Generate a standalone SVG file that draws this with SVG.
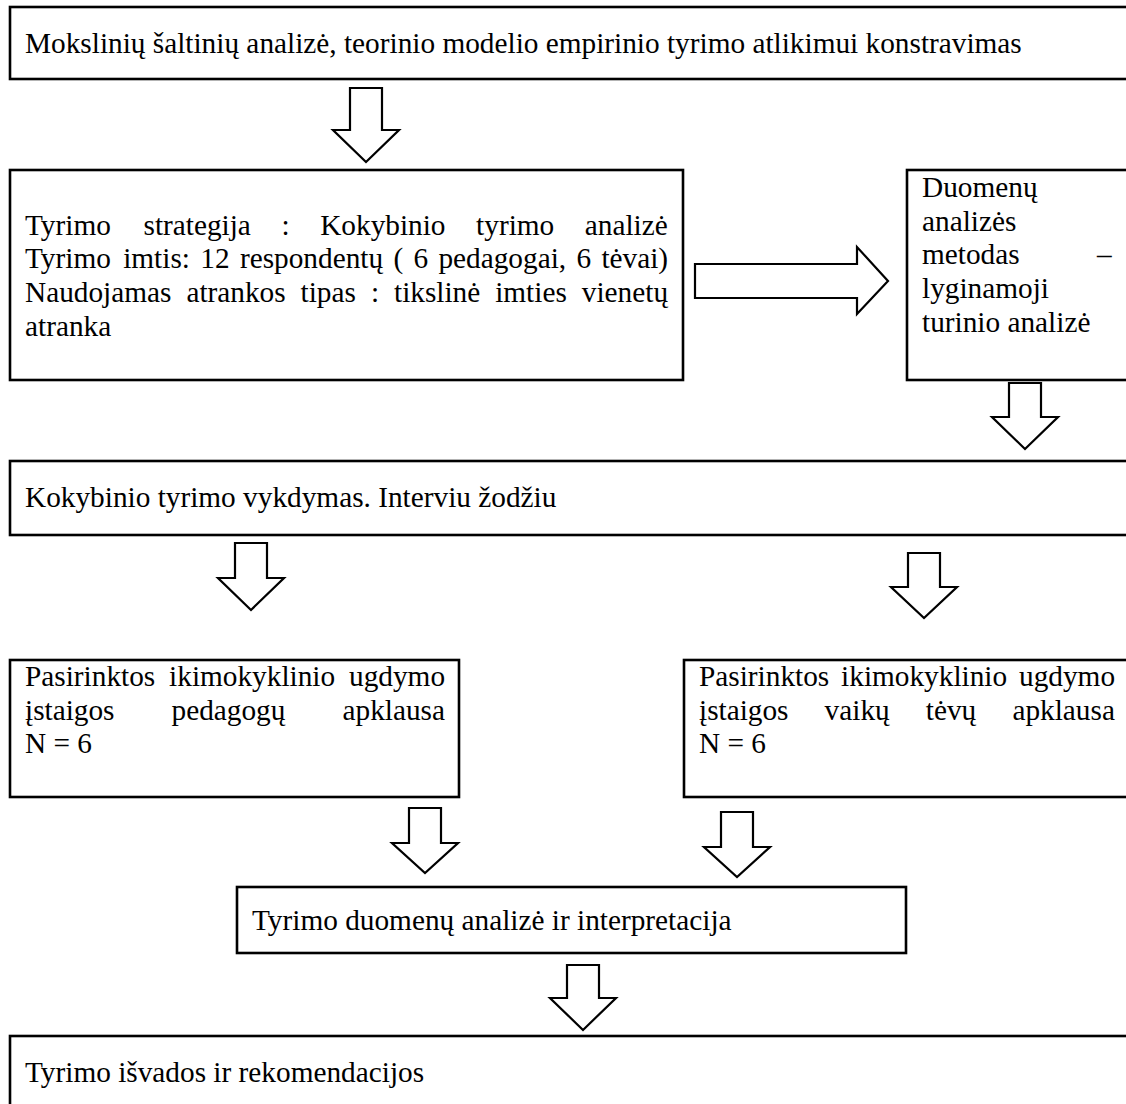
<svg xmlns="http://www.w3.org/2000/svg" width="1126" height="1104" viewBox="0 0 1126 1104" font-family="'Liberation Serif', 'Times New Roman', serif" font-size="29.3">
<style>
.box{fill:#fff;stroke:#000;stroke-width:2.6}
.arr{fill:#fff;stroke:#000;stroke-width:2.2;stroke-linejoin:miter}
.t{font-family:"Liberation Serif","Times New Roman",serif;font-size:29.3px;fill:#000}
</style>
<rect width="1126" height="1104" fill="#fff"/>
<g id="connectors">
<path class="arr" d="M350,88 H382 V130 H399 L366,162 L333,130 H350 Z"/>
<path class="arr" d="M695,264 H857 V247 L888,281 L857,314 V298 H695 Z"/>
<path class="arr" d="M1009,383 H1041 V417 H1058 L1025,449 L992,417 H1009 Z"/>
<path class="arr" d="M235,543 H267 V578 H284 L251,610 L218,578 H235 Z"/>
<path class="arr" d="M908,553 H940 V587 H957 L924,618 L891,587 H908 Z"/>
<path class="arr" d="M409,808 H441 V843 H458 L425,873 L392,843 H409 Z"/>
<path class="arr" d="M721,812 H753 V847 H770 L737,877 L704,847 H721 Z"/>
<path class="arr" d="M567,965 H599 V998 H616 L583,1030 L550,998 H567 Z"/>
</g>
<g id="n1">
<rect class="box" x="10" y="7" width="1125" height="72"/>
<text class="t" x="25" y="53">Mokslinių šaltinių analizė, teorinio modelio empirinio tyrimo atlikimui konstravimas</text>
</g>
<g id="n2">
<rect class="box" x="10" y="170" width="673" height="210"/>
<text class="t" x="25" y="234.5">Tyrimo</text>
<text class="t" x="143.5" y="234.5">strategija</text>
<text class="t" x="281.5" y="234.5">:</text>
<text class="t" x="320.2" y="234.5">Kokybinio</text>
<text class="t" x="476.1" y="234.5">tyrimo</text>
<text class="t" x="584.8" y="234.5">analizė</text>
<text class="t" x="25" y="268.2">Tyrimo</text>
<text class="t" x="123.2" y="268.2">imtis:</text>
<text class="t" x="200.3" y="268.2">12</text>
<text class="t" x="239.9" y="268.2">respondentų</text>
<text class="t" x="393.4" y="268.2">(</text>
<text class="t" x="413.5" y="268.2">6</text>
<text class="t" x="438.4" y="268.2">pedagogai,</text>
<text class="t" x="576.5" y="268.2">6</text>
<text class="t" x="601.4" y="268.2">tėvai)</text>
<text class="t" x="25" y="301.9">Naudojamas</text>
<text class="t" x="186.4" y="301.9">atrankos</text>
<text class="t" x="300.6" y="301.9">tipas</text>
<text class="t" x="370.9" y="301.9">:</text>
<text class="t" x="394" y="301.9">tikslinė</text>
<text class="t" x="495.2" y="301.9">imties</text>
<text class="t" x="581.8" y="301.9">vienetų</text>
<text class="t" x="25" y="335.6">atranka</text>
</g>
<g id="n3">
<rect class="box" x="907" y="170" width="230" height="210"/>
<text class="t" x="922" y="197">Duomenų</text>
<text class="t" x="922" y="230.7">analizės</text>
<text class="t" x="922" y="264.4">metodas</text>
<text class="t" x="1097" y="264.4">–</text>
<text class="t" x="922" y="298">lyginamoji</text>
<text class="t" x="922" y="332">turinio analizė</text>
</g>
<g id="n4">
<rect class="box" x="10" y="461" width="1125" height="74"/>
<text class="t" x="25" y="507">Kokybinio tyrimo vykdymas. Interviu žodžiu</text>
</g>
<g id="n5">
<rect class="box" x="10" y="660" width="449" height="137"/>
<text class="t" x="25" y="686">Pasirinktos</text>
<text class="t" x="169.1" y="686">ikimokyklinio</text>
<text class="t" x="349" y="686">ugdymo</text>
<text class="t" x="25" y="720">įstaigos</text>
<text class="t" x="171.5" y="720">pedagogų</text>
<text class="t" x="342.5" y="720">apklausa</text>
<text class="t" x="25" y="753">N = 6</text>
</g>
<g id="n6">
<rect class="box" x="684" y="660" width="450" height="137"/>
<text class="t" x="699" y="686">Pasirinktos</text>
<text class="t" x="841.1" y="686">ikimokyklinio</text>
<text class="t" x="1019" y="686">ugdymo</text>
<text class="t" x="699" y="720">įstaigos</text>
<text class="t" x="824.6" y="720">vaikų</text>
<text class="t" x="925.8" y="720">tėvų</text>
<text class="t" x="1012.4" y="720">apklausa</text>
<text class="t" x="699" y="753">N = 6</text>
</g>
<g id="n7">
<rect class="box" x="237" y="887" width="669" height="66"/>
<text class="t" x="252" y="930">Tyrimo duomenų analizė ir interpretacija</text>
</g>
<g id="n8">
<rect class="box" x="10" y="1036" width="1125" height="80"/>
<text class="t" x="25" y="1082">Tyrimo išvados ir rekomendacijos</text>
</g>
</svg>
